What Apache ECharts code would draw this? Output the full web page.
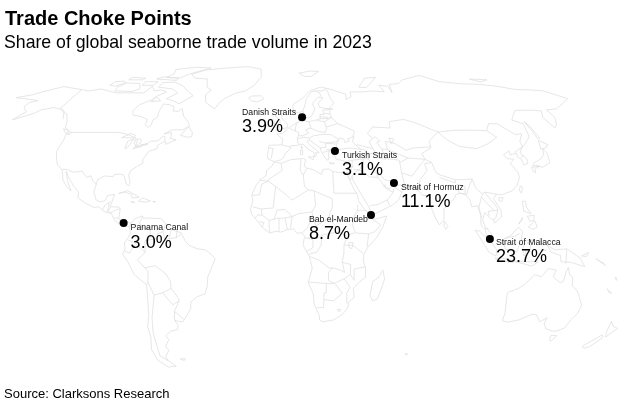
<!DOCTYPE html>
<html>
<head>
<meta charset="utf-8">
<style>
  html, body { margin: 0; padding: 0; background: #fff; }
  #main { width: 633px; height: 412px; }
</style>
<script src="https://cdn.jsdelivr.net/npm/echarts@6/dist/echarts.min.js"></script>
</head>
<body>
<div id="main"></div>
<script>
// choke points, lon/lat
const chokeNames = ['Danish Straits', 'Turkish Straits', 'Strait of Hormuz', 'Bab el-Mandeb', 'Panama Canal', 'Strait of Malacca'];
const chokeShares = [3.9, 3.1, 11.1, 8.7, 3.0, 23.7];
const chokeLons = [10.3, 27.2, 56.2, 43.3, -81, 102.5];
const chokeLats = [56, 40.7, 26.5, 12.4, 8.8, 1.8];

// base map, rough outlines in lon/lat
const landRings = [
  // North America
  [[-178,65.5],[-170,67],[-166,68.5],[-156.5,71.3],[-141,69.7],[-135,69],[-128,70],[-115,68],[-108,68],[-96,68],[-94,71.5],[-90,69],[-85,69.5],[-81,68.5],[-86,66],[-87,64.5],[-93,62],[-94.5,59],[-92.5,57],[-88,56.5],[-82.5,55],[-82,52.5],[-79.5,51.3],[-78.5,52.5],[-79,54.8],[-77,56],[-78,58.7],[-78,62.4],[-73.5,62],[-70,61],[-69.5,59],[-66,58.8],[-64.5,60.2],[-61.5,56.5],[-57,53.5],[-55.8,52],[-59,50.2],[-65,50.2],[-69,48.3],[-65,49],[-64.5,47.5],[-64.5,46.2],[-61,45.7],[-63.5,44.6],[-66,43.6],[-66.5,45],[-69,44],[-70.5,43],[-70,41.7],[-74,40.6],[-75.5,38],[-76,36.9],[-75.5,35.2],[-78,33.9],[-81,32],[-81.4,30],[-80,26.8],[-80.4,25.2],[-81.8,26],[-82.8,28],[-84,30],[-86,30.4],[-89,30.2],[-89.5,29.2],[-91.5,29.5],[-94,29.6],[-97,28],[-97.3,25.5],[-97.8,22.5],[-96,19],[-94,18.2],[-91.5,18.6],[-90.5,21],[-87,21.5],[-87.7,18.5],[-88.5,16],[-84,15.9],[-83.2,15],[-83.6,11],[-82,9],[-79.5,9.5],[-77.4,8.7],[-77.9,7.2],[-80,7.5],[-81.5,7.7],[-83,8.3],[-85.7,10],[-87.5,13],[-91.5,14],[-94,16],[-96.5,15.7],[-101,17.5],[-105.5,20],[-105.5,22.5],[-109,25.5],[-112.8,29.5],[-114.7,31.7],[-112.5,27.5],[-110.5,24.5],[-109.5,23],[-112,24.8],[-115,27.8],[-116,30.5],[-117.2,32.5],[-120.5,34.5],[-122.5,37.5],[-124.3,40.4],[-124,46],[-124.7,48.4],[-122.5,48],[-123,49.3],[-127.5,51],[-130,54.5],[-133.5,57.5],[-137,58.5],[-140,59.8],[-146,60.7],[-149,60],[-152,59.5],[-154,58],[-158,56.5],[-163,54.8],[-160,58.7],[-162,59.5],[-165,61],[-165,63.2],[-161,64],[-165,64.5]],
  // Canadian islands, Greenland, Iceland
  [[-61.5,66.5],[-68,62.5],[-73,64],[-78,65],[-73,68],[-78,70],[-89,71],[-89,73.5],[-80,73.7],[-72,71.5],[-67,69]],
  [[-117,69],[-105,68.7],[-101,70],[-105,73],[-115,73.3],[-118,71]],
  [[-125,72],[-120,71.5],[-116,73.5],[-118,74.3],[-124,74]],
  [[-90,76.5],[-79,76.2],[-75,78.5],[-65,81.5],[-62,82.6],[-75,83.1],[-90,81.5],[-87,78.5]],
  [[-96,75.5],[-80,74.7],[-80,75.7],[-92,76.8]],
  [[-102,72],[-94,72],[-93,74],[-102,74]],
  [[-116,75],[-106,75],[-105,76],[-116,76.5]],
  [[-59.3,47.7],[-55.5,46.9],[-52.7,47],[-53,49],[-56,51.5],[-57.5,50]],
  [[-128.3,50.7],[-125,50],[-123.5,48.4],[-125.5,48.8]],
  [[-87,63.5],[-81,64],[-85,65.8]],
  [[-44,60],[-51,63],[-53.5,67],[-51,69.5],[-55,71],[-58,75.5],[-68,76],[-73,78.3],[-65,81],[-50,82.5],[-32,83.6],[-20,81.8],[-18,77],[-22,72],[-27,69],[-33,68],[-40,65],[-43,62]],
  [[-24,65.5],[-22,64],[-18,63.4],[-13.7,65],[-16,66.5],[-22,66.4]],
  // Caribbean
  [[-85,21.9],[-80.5,23.1],[-74.2,20.2],[-77.7,19.9],[-78.5,21.5],[-82,22.5]],
  [[-74.4,18.5],[-72.5,19.9],[-68.4,18.6],[-71,18]],
  [[-78.3,18.3],[-76.3,18.1],[-77,17.8]],
  [[-67.2,18.4],[-65.7,18.3],[-66.5,18]],
  // South America
  [[-77.4,8.7],[-75.5,10.7],[-72,12],[-71.5,11],[-68,11],[-62,10.7],[-60,8.5],[-57,6],[-52,4.5],[-50,1],[-48,-1],[-44,-2.5],[-40,-3],[-37,-5],[-35,-7],[-37,-11],[-39,-15],[-39.5,-19],[-41,-22.5],[-45,-23.7],[-48.5,-26],[-49,-29],[-52,-32.5],[-54,-34.8],[-57,-34.5],[-58.4,-34],[-57,-36.5],[-58,-38.3],[-62,-39],[-65,-41],[-64,-42.7],[-67,-45.8],[-65.8,-47.5],[-69,-50.5],[-68.3,-52.4],[-65,-54.8],[-70,-55.2],[-74.5,-52],[-75.5,-47],[-73.5,-42],[-73.5,-37],[-71.5,-32],[-70.5,-25],[-70.3,-18.4],[-76,-14],[-79,-8],[-81.3,-5],[-80,-2.5],[-80.3,0],[-78.7,2],[-77.5,4],[-77.9,7.2]],
  [[-61,-51.5],[-58,-51.3],[-59,-52.2]],
  // Africa
  [[-5.9,35.8],[-2,35.2],[3,36.8],[10,37.3],[11,36.9],[10.2,34],[11,33.2],[15,32.3],[19,30.3],[20,32.5],[23,32.7],[25,31.6],[29,31],[32.3,31.2],[32.6,29.9],[35,24.5],[37,21],[37.3,18.8],[39.5,15.5],[43.2,12.5],[43.3,11.5],[44.5,10.4],[51.2,11.9],[49,7],[46,2.5],[41.5,-1.8],[39.5,-5],[39.3,-8],[40.5,-11],[40.7,-15],[36.8,-18],[34.8,-20],[35.5,-24],[32.9,-26],[32.5,-28.8],[30,-31.5],[25.7,-34],[20,-34.8],[18.3,-34],[18,-32],[15,-27],[14.5,-22.5],[11.8,-17.5],[13.7,-11],[12.2,-6],[9,-1],[9.8,3],[8.5,4.5],[6,4.3],[4.3,6.3],[1,5.9],[-2,4.8],[-4.5,5.2],[-7.6,4.4],[-11.5,7],[-13.3,9],[-15,11],[-16.8,12.5],[-17.4,14.7],[-16.3,19],[-17,21],[-14.8,25.5],[-12.9,27.9],[-9.8,29.8],[-9.6,32],[-6.8,34.1]],
  [[49.3,-12],[50.4,-16],[47.5,-24.7],[45,-25.5],[43.5,-23],[44.4,-17],[47,-15.5]],
  // Eurasia
  [[-5.6,36],[-9,37],[-9.5,38.8],[-8.8,43.2],[-1.8,43.4],[-1.2,46],[-4.7,48.2],[-1.6,48.6],[0,49.4],[2,51],[4,52],[7,53.5],[8.5,53.8],[8.2,57],[10.6,57.7],[10.4,55.5],[12,54.2],[14.2,53.9],[18.5,54.7],[21,55.2],[21.5,57.5],[24,57.3],[23.5,59.3],[30,60],[25,60.2],[21.5,61],[21.5,63],[25.2,65.3],[22,65.8],[17.5,62.5],[18.7,60],[16.5,57],[14.2,55.5],[12.7,56],[11,59],[8,58],[5.2,59],[5,62],[12,65.5],[17,69],[25,71],[31,70],[41,67.3],[40,64.6],[44,66],[44.5,68.5],[54,68.5],[60,69],[68,68.5],[67,72],[73,71.5],[72.8,68],[75,72.5],[82,73],[87,75],[104,77.6],[113,74],[128,72.8],[140,72.5],[150,71.5],[160,69.7],[170,69.5],[178,69],[186,65],[178,62.5],[170,60],[163,59.5],[163,56],[160,53],[156.7,51],[155.7,56],[159,59],[155,59.3],[143,59.3],[135.5,54.7],[140.5,53],[138,47],[132,43.2],[130,42.3],[127.5,39.8],[129.5,37],[129,35.2],[126.5,34.5],[126.5,37],[125,38],[125.5,39.7],[121.5,39],[122,40.7],[118,39],[119,37.3],[122.5,37],[119.5,35],[121.8,31.5],[121.8,29],[119.5,25.5],[116,22.9],[110.5,21.3],[108,21.6],[106,19.5],[109,14.5],[109,11.5],[105,8.7],[105,10],[103,11],[100.8,13.5],[99.3,10],[100.5,7],[103.5,4],[104,1.4],[101,2.9],[100.3,6],[98.3,8],[98.6,12],[97.6,16.5],[94.5,16],[94,19],[92,21.5],[90,22],[87,21.3],[86.5,20],[82.3,16.6],[80.2,15],[80.2,13],[79.8,10.3],[77.5,8],[76,10.5],[74.5,14],[73,19],[72.7,21],[70,21],[69,22.5],[67,24.7],[61.6,25.2],[57.3,25.7],[56.5,27],[51.5,27.9],[50,30],[48,30],[48.5,28.5],[50,26.7],[51,24.7],[51.5,25.8],[51.5,24.3],[54,24.2],[56.3,26.2],[56.7,24.3],[59.8,22.5],[57.8,19],[55,17],[52,15.7],[45,12.8],[43.4,12.7],[42.7,15.5],[39.2,21],[35,28],[34.9,29.5],[33.8,27.8],[32.6,29.9],[32.3,31.2],[34.2,31.3],[35,33],[36,36.5],[32.5,36],[30.5,36.5],[27.4,37],[26.3,39.5],[29,41.2],[35,42],[41.5,41.5],[37.5,44.7],[39,47.2],[35,46],[36,45.2],[33.5,44.4],[33,46],[30.8,46.5],[28.5,43.5],[28,42],[26,40.8],[23.8,40.5],[23.5,38],[23,36.5],[21.5,37.5],[19.4,41],[19.5,42],[13.7,45.5],[12.3,45],[13.5,43.5],[16,41.8],[18.5,40],[16.5,39.8],[17,38.9],[16,38],[15.7,40],[12.5,41.5],[10,43.8],[6,43.1],[3.2,43],[3,41.7],[0,39.5],[-0.5,38],[-2,36.8]],
  // European and Arctic islands
  [[-5.5,50],[1.4,51.2],[1.7,52.7],[-0.2,54],[-2,55.9],[-2,57.6],[-3.5,58.6],[-5,58.5],[-6,56.5],[-3,54.8],[-3,53.4],[-5,52],[-3,51.4]],
  [[-10,51.7],[-6.3,52.2],[-6,54],[-7.5,55.2],[-10,54]],
  [[12.5,38],[15.6,38.2],[15,36.7]],
  [[8.3,41],[9.7,41],[9.5,39.1],[8.5,39]],
  [[8.7,42.5],[9.5,43],[9.3,41.5]],
  [[23.5,35.5],[26.3,35.2],[24.5,34.9]],
  [[32.3,35],[34.5,35.6],[33.5,34.7]],
  [[11,79],[20,80.3],[27,80],[20,77],[15,77]],
  [[52,71],[57,70.7],[69,76.5],[60,76],[55,73]],
  [[138,75.5],[150,75],[143,73.8]],
  // Asia islands
  [[142,54],[143,52],[143.5,46.5],[142,46],[142,50]],
  [[131,34.3],[136,33.5],[140.8,35.5],[142,39.5],[141,41.5],[139.8,39],[136.7,37],[132.5,35.5]],
  [[140,41.5],[141.7,45.4],[145.3,43.5],[143,42]],
  [[130,33.5],[131.8,33.5],[131,31],[130,31.5]],
  [[132.5,34],[134.5,34.2],[133,32.9]],
  [[121,25.2],[122,24.8],[120.8,22],[120,23.3]],
  [[109,20],[111,20],[110,18.2],[108.7,18.7]],
  [[120.5,18.5],[122.2,18.4],[122,16],[124,13],[120.5,14]],
  [[122,7],[125.5,9.8],[126.5,7],[124,6]],
  [[122,11.8],[125.5,12.3],[125,10],[123,9.5]],
  [[117.2,8.3],[119.5,11.3],[119,10]],
  [[109,1.5],[113,3.3],[117,7],[119,5],[118,1],[116,-3.8],[110.5,-2.8],[109,0]],
  [[95.3,5.6],[97.5,5.2],[103.5,0],[106,-3],[105.7,-5.8],[102,-4],[98.5,1]],
  [[105.2,-6.8],[108.5,-6.6],[114.5,-7.7],[114.5,-8.7],[106.5,-7.5]],
  [[119.5,-5.5],[119,-2.5],[120,1],[125,1.5],[121,0],[123,-1],[122,-4.5],[120.5,-3],[120.5,-5.5]],
  [[115,-8.2],[119,-8.3],[125,-8.3],[127,-8.4],[124,-10.2],[119,-9]],
  [[127.5,2],[128.5,1],[128,-0.8]],
  [[128,-3],[130.8,-3.2],[129,-3.5]],
  [[131,-1],[135,-3],[141,-2.6],[146,-5.5],[147.8,-6.5],[150.7,-10.4],[147,-9.5],[143.5,-8.5],[138.5,-8.3],[138,-5.5],[133,-4],[132.5,-2.8]],
  [[148.5,-5.7],[152,-4.2],[151,-6]],
  [[156,-7],[160,-9],[161,-10],[158,-8.2]],
  [[80,9.7],[81.8,7.3],[80.5,6],[79.8,7.5]],
  // Oceania
  [[113.6,-22],[114,-26],[115,-31],[115,-34.3],[118,-35],[123.5,-34],[129,-31.6],[131.5,-31.5],[135,-34.8],[138,-33],[137.8,-35.5],[140,-37.8],[143.5,-38.8],[146.4,-39],[150,-37.5],[151,-34],[153,-31],[153.5,-27.5],[151,-24],[149,-21],[146,-19],[145.3,-15],[143.5,-14],[142.5,-10.8],[141.6,-13],[141,-17],[139.5,-17.5],[135.5,-15],[136.5,-12],[132.5,-11.3],[129.5,-14.9],[126,-14],[122,-18],[119,-20],[114,-21.8]],
  [[145,-40.8],[148.3,-41],[147,-43.5],[145.5,-42.5]],
  [[172.8,-34.5],[175.5,-36.8],[178.5,-37.7],[175.5,-41.6],[174,-39.5]],
  [[172.7,-40.6],[174.3,-41.7],[170.8,-45.9],[168.5,-46.6],[166.5,-45.8]],
  [[164,-20.2],[167,-22.3],[165.5,-21.8]],
  [[167,-15],[168,-16.5],[167.3,-16]],
  [[68.8,-49],[70.3,-49.2],[69.5,-49.7]]
];

const lakeRings = [
  [[47,45],[51,47],[53,45],[51,44.5],[53,41.5],[54,37],[50,37.5],[49,40],[47.5,43]],
  [[58.5,46.5],[61,46],[59,44]],
  [[-92,46.7],[-88,48.5],[-85,47.8],[-84.7,46.5],[-87,46.5]],
  [[-87.7,41.7],[-87.8,45],[-85,46],[-86.3,42.5]],
  [[-84,46],[-81,46],[-80,44.5],[-82.3,43],[-83.5,44]],
  [[-83.3,41.6],[-79,42.8],[-83,42.3]],
  [[-79.8,43.3],[-76.3,44],[-76.3,43.4]],
  [[32,0.3],[34,0.2],[33.5,-2.5],[32,-2]]
];

const borderPaths = [
  // North America
  [[-123,49],[-95,49],[-89,48],[-84.5,46.5],[-82.5,45.3],[-82.5,42.7],[-79,43],[-76.5,44],[-74.8,45],[-71,45.2],[-69,47.4],[-67.8,47],[-67.2,45.2]],
  [[-141,69.7],[-141,60.3],[-137,59],[-133,55]],
  [[-117.1,32.5],[-114.7,32.5],[-111,31.3],[-108.2,31.5],[-106.5,31.8],[-103,29],[-101,29.7],[-99.5,27.5],[-97.2,25.9]],
  [[-92.2,14.5],[-91,17],[-89.2,17.8],[-88.3,18.5]],
  [[-89.2,17.8],[-89.2,15.9],[-89.5,14.2],[-90.1,13.7]],
  [[-88.3,15.8],[-89.4,14.3],[-87.8,13.4],[-85,14.8],[-83.2,15]],
  [[-85.7,11],[-83.7,11]],
  [[-83,8.3],[-82.6,9.6]],
  // South America
  [[-71.5,11.8],[-73,9],[-72,7],[-67.5,6.2],[-67.5,2]],
  [[-60,8.5],[-61,5],[-64,4],[-64,2],[-67,1.5],[-70,1],[-70,-4.2]],
  [[-57,6],[-58,2],[-60,1],[-61,5]],
  [[-54,5.8],[-54.5,2.3]],
  [[-52,4],[-54.5,2.3],[-58,2]],
  [[-78.7,1.4],[-75,0],[-70,-4.2],[-74,-7.5],[-70.5,-11]],
  [[-80.3,-3.4],[-78,-4.5],[-75,-0.5]],
  [[-70.5,-11],[-65.3,-10],[-60,-13.7],[-58,-17],[-58,-20],[-62.5,-22],[-67,-23],[-69.5,-17.5],[-69,-12.5],[-70.5,-11]],
  [[-70.3,-18.4],[-69.5,-17.5]],
  [[-67,-23],[-70,-33],[-71.5,-40],[-72,-50],[-68.5,-52.3]],
  [[-58,-20],[-55,-24],[-54.5,-25.5],[-58,-27.3],[-62.5,-22]],
  [[-53.5,-33.7],[-57.6,-30.2],[-54.5,-25.5]],
  [[-57.6,-30.2],[-58.4,-34]],
  // Africa
  [[-2,35],[-1.5,32],[-8.7,28],[-8.7,27.3],[-13,27.7]],
  [[-8.7,27.3],[-12,26],[-13,21.3],[-17,21]],
  [[-4.8,25],[-8.7,27.3]],
  [[-4.8,25],[-6,15.5],[-12,15],[-16.3,16]],
  [[-4.8,25],[1,21],[3.3,19],[4.2,19.2],[12,23.5]],
  [[8.5,36.9],[8,32],[9.5,30]],
  [[11.5,33],[9.5,30],[10,25],[12,23.5],[15,23],[24,19.5]],
  [[25,31.6],[25,22],[37,22]],
  [[24,19.5],[24,15.7],[22.5,13],[22,11]],
  [[15,23],[15.5,16.5],[13.5,13.7]],
  [[3.6,11.7],[7,13],[13.5,13.7],[14,12],[11,6.5],[8.7,4.5]],
  [[3.6,11.7],[2.7,6.4]],
  [[1.2,6.1],[0,11]],
  [[-5.5,10.5],[-3,11],[0,11],[3.6,11.7]],
  [[-3,5],[-3,11]],
  [[-5.5,10.5],[-4,14.5],[0,14.9],[3.6,11.7]],
  [[-7.5,4.4],[-8,8],[-8,10],[-5.5,10.5]],
  [[-8,10],[-11.5,12.3],[-13.7,12.5],[-15,11]],
  [[-11.5,7],[-10.5,9],[-13,9.5]],
  [[-12,15],[-11.5,12.3]],
  [[14,12],[15.5,7.5],[22,11]],
  [[15.5,7.5],[16,2]],
  [[10,2.2],[16,2],[18.5,3.5],[18,-1],[16,-4],[12,-5]],
  [[11.3,2.2],[14,1.5],[14,-2],[11,-3.7]],
  [[18.5,3.5],[27,5]],
  [[22,11],[27.5,5.2]],
  [[12.3,-6],[17,-7.5],[22,-11],[24,-11],[28,-12],[30,-13],[28.7,-8.5]],
  [[27,5],[31,3],[29.5,-1],[29.5,-4.5],[28.7,-8.5],[33,-9.5]],
  [[24,10],[33,10],[34,10]],
  [[37,17],[36.5,14.3],[34,10.5],[34,7.5],[35,5]],
  [[36.5,14.3],[40,14.5],[42.8,12.6]],
  [[31,3.5],[35,4.5],[41.9,4],[41,-1.8]],
  [[34,-1],[39.2,-4.7]],
  [[29.7,-1],[34,-1]],
  [[41.9,4],[45,5],[48,8],[43,11]],
  [[40.5,-10.5],[34.8,-11.5]],
  [[33,-9.5],[33,-14],[35,-16.5],[34.8,-11.5]],
  [[22,-18],[25,-17.8],[30,-15.8],[33,-14]],
  [[24,-11],[22,-13],[22,-16.5],[25,-17.8]],
  [[11.8,-17.3],[22,-17.9]],
  [[21,-18],[21,-22],[20,-22],[20,-28.5],[16.5,-28.6]],
  [[20,-25],[25,-25.5],[29.3,-22.2],[25.5,-18]],
  [[30,-15.8],[33,-19.5],[31.5,-22.3],[32,-26.8]],
  [[27,-29.5],[29,-29.2],[28.5,-30.5],[27,-29.5]],
  // Europe
  [[-8.8,42],[-6.5,41.8],[-7.4,37.2]],
  [[-1.8,43.4],[3.2,42.4]],
  [[2.5,51],[6,49.5],[8,49],[7.5,47.5],[6.8,46],[7.5,43.8]],
  [[7,53.3],[6,51],[6,49.5]],
  [[8.5,54.9],[9.8,54.8]],
  [[14.2,53.9],[15,51],[12,50.3],[13.5,48.7],[10,47.5],[7.5,47.5]],
  [[6.8,46],[10.5,46.8],[13.7,46.5],[13.7,45.5]],
  [[14.8,51],[19,49.5],[23,49],[24,50.5],[23.5,54],[19,54.4]],
  [[21,55.3],[26,55.5],[28,56],[27.5,57.5],[24.3,57.9]],
  [[21,56.3],[26,56]],
  [[23.5,54],[28,56],[31,53],[24,51.5]],
  [[31,53],[34,52],[40,49.5],[38.2,47]],
  [[22,48.2],[16.2,47.5],[13.7,46.5]],
  [[22,48.2],[26,48],[30,46],[28.7,45]],
  [[19,45],[22.5,44.2],[29,44.8]],
  [[22.5,44.2],[28.5,43.7]],
  [[22.5,41.3],[26.5,41.5]],
  [[20.5,40],[26,41.3]],
  [[26.3,40.9],[28,42]],
  [[19.5,42],[22.5,42.3],[22.5,44.2]],
  [[11.2,59],[12.5,61.5],[14,65],[18,68.5],[21,69],[25.5,69],[29,70]],
  [[24,66],[23.5,68],[21,69]],
  [[29,69.5],[30,65],[31.5,62.8],[28,60.5]],
  [[28,60],[27.5,57.5]],
  // Asia
  [[49,46.5],[47,48.5],[51,51.5],[61,51],[62,54],[71,55],[77,53.5],[83,51],[87.5,49.2],[98,50],[107,50],[116,49.8],[120,53],[125,53],[131,48],[135,48.4],[131,45],[130.7,42.3]],
  [[87.5,49.2],[91,45.5],[96,42.7],[105,41.7],[112,43.7],[119.5,46.8],[116,49.8]],
  [[87.5,49.2],[80.5,45],[80,42],[74,39.5],[75,37]],
  [[53,41.5],[56,41.3],[56,45],[61,44],[66,41],[70,42],[80,42.5]],
  [[56,41.3],[62,39],[66,37.5]],
  [[54,37.3],[61,36.6],[61,35.5]],
  [[61,35.5],[61,31],[66,29.5],[71,34],[75,37],[66,37.5],[61,35.5]],
  [[61,31],[61.6,25.2]],
  [[68.5,23.8],[70,28],[74.5,32],[74,35],[78,35.5]],
  [[75,37],[78,35.5],[79,31],[81,30],[88,28],[92,28],[97,28.3]],
  [[80.2,29],[88,26.5],[88,28]],
  [[88.5,26],[89,22],[92,21.5],[92.5,25],[88.5,26]],
  [[97,28.3],[94,24],[92.5,21]],
  [[97,28.3],[98,24],[101,21.5],[102,22.5],[108,21.6]],
  [[100,20.3],[98,15.5],[99,11]],
  [[101,21.5],[100,20.3],[102,18],[105.5,14.3],[107.5,14.5],[107,16],[102,22.5]],
  [[102.8,12],[102.5,14],[105.5,14.3]],
  [[107.5,14.5],[106,11],[104.5,10.4]],
  [[100.1,6.5],[102,6.2]],
  [[124.5,40],[128,41.5],[130.7,42.3]],
  [[126.7,37.8],[128.5,38.5]],
  [[48,30],[46,34],[44.8,37.2]],
  [[36.2,36.6],[42,37.2],[44.8,37.2],[44.5,39.7],[43.5,41.1],[41.5,41.5]],
  [[40,43.5],[48,41.7]],
  [[44.5,39.7],[48,39.4]],
  [[42,37.2],[41,34.4],[39,32.3],[36,32.5]],
  [[34.9,29.5],[37,31.5],[39,32.3],[44,29.2],[48,29]],
  [[43,16.5],[47,17],[52,19],[53,16.6]],
  [[52,19],[55,22],[56,24.5]],
  [[51.6,24.3],[55,22.5]],
  [[35.5,33],[36,34.5]],
  [[141,-2.6],[141,-9.1]],
  [[109.6,2],[115,3],[117.5,4.2]]
];

// Robinson table, one row per 5 degrees of latitude
const robinsonLen = [1, .9986, .9954, .99, .9822, .973, .96, .9427, .9216, .8962, .8679, .835, .7986, .7597, .7186, .6732, .6213, .5722, .5322];
const robinsonDrop = [0, .062, .124, .186, .248, .31, .372, .434, .4958, .5571, .6176, .6769, .7346, .7903, .8435, .8936, .9394, .9761, 1];

const mapLeft = 285, mapEquator = 243, mapScaleX = 2, mapScaleY = 182.6;

function lookup(table, lat) {
  const a = Math.min(Math.abs(lat) / 5, 17.999);
  const i = Math.floor(a);
  return table[i] + (table[i + 1] - table[i]) * (a - i);
}

function project(p) {
  const sign = p[1] < 0 ? -1 : 1;
  return [
    mapLeft + mapScaleX * lookup(robinsonLen, p[1]) * p[0],
    mapEquator - mapScaleY * sign * lookup(robinsonDrop, p[1])
  ];
}

function unproject(p) {
  const d = (mapEquator - p[1]) / mapScaleY;
  const abs = Math.abs(d);
  let i = 0;
  while (i < 17 && robinsonDrop[i + 1] < abs) i++;
  const lat = (i + (abs - robinsonDrop[i]) / (robinsonDrop[i + 1] - robinsonDrop[i])) * 5 * (d < 0 ? -1 : 1);
  return [(p[0] - mapLeft) / (mapScaleX * lookup(robinsonLen, lat)), lat];
}

const closeRing = ring => [ring.concat([ring[0]])];

echarts.registerMap('world', {
  type: 'FeatureCollection',
  features: [
    { type: 'Feature', properties: { name: 'land' }, geometry: { type: 'MultiPolygon', coordinates: landRings.map(closeRing) } },
    { type: 'Feature', properties: { name: 'lakes' }, geometry: { type: 'MultiPolygon', coordinates: lakeRings.map(closeRing) } },
    { type: 'Feature', properties: { name: 'borders' }, geometry: { type: 'MultiLineString', coordinates: borderPaths } }
  ]
});

// the geo box has to be the projected extent, then lon/lat land on the same pixels
let minX = Infinity, minY = Infinity, maxX = -Infinity, maxY = -Infinity;
landRings.concat(lakeRings, borderPaths).forEach(line => line.forEach(c => {
  const q = project(c);
  minX = Math.min(minX, q[0]);
  maxX = Math.max(maxX, q[0]);
  minY = Math.min(minY, q[1]);
  maxY = Math.max(maxY, q[1]);
}));

// label box offset from the dot, left or right of it
const labelOffsets = [[-56, -6.5], [11, 3.5], [11, 3.5], [-58, 3.5], [11, 3.5], [10, 2.5]];

const fontName = '"Liberation Sans", Arial, sans-serif';
const chart = echarts.init(document.getElementById('main'), null, { renderer: 'canvas' });

chart.setOption({
  backgroundColor: '#fff',
  animation: false,
  title: [
    { text: 'Trade Choke Points', left: 5, top: 9, padding: 0, textStyle: { fontFamily: fontName, fontSize: 20, fontWeight: 'bold', color: '#000' } },
    { text: 'Share of global seaborne trade volume in 2023', left: 4, top: 34, padding: 0, textStyle: { fontFamily: fontName, fontSize: 17.7, fontWeight: 'normal', color: '#000' } },
    { text: 'Source: Clarksons Research', left: 4, top: 388, padding: 0, textStyle: { fontFamily: fontName, fontSize: 13, fontWeight: 'normal', color: '#000' } }
  ],
  geo: {
    map: 'world',
    projection: { project, unproject },
    left: minX,
    top: minY,
    width: maxX - minX,
    height: maxY - minY,
    roam: false,
    silent: true,
    itemStyle: { areaColor: '#fff', borderColor: '#e0e0e0', borderWidth: 0.8 },
    label: { show: false }
  },
  series: [{
    type: 'scatter',
    coordinateSystem: 'geo',
    symbol: 'circle',
    symbolSize: 8,
    silent: true,
    itemStyle: { color: '#000', opacity: 1 },
    data: chokeNames.map((name, i) => ({
      name,
      value: [chokeLons[i], chokeLats[i], chokeShares[i]],
      label: { position: labelOffsets[i] }
    })),
    label: {
      show: true,
      align: 'left',
      verticalAlign: 'top',
      formatter: p => `{a|${p.name}}\n{b|${p.value[2].toFixed(1)}%}`,
      rich: {
        a: { fontFamily: fontName, fontSize: 8.7, lineHeight: 11, color: '#111' },
        b: { fontFamily: fontName, fontSize: 18, lineHeight: 18, color: '#000' }
      }
    }
  }]
});
</script>
</body>
</html>
